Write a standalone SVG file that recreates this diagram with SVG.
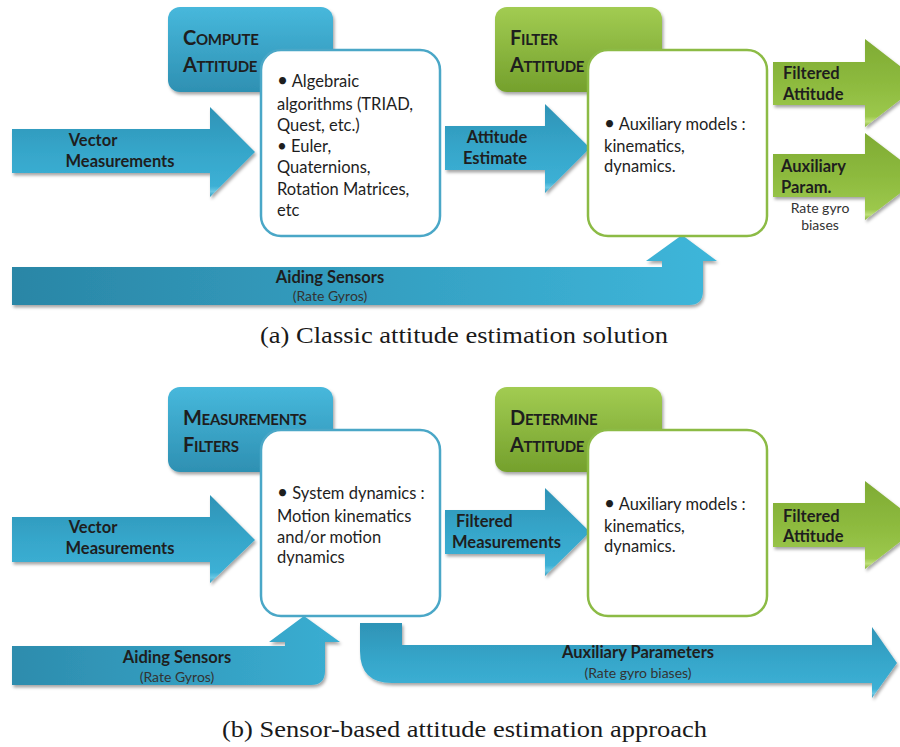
<svg xmlns="http://www.w3.org/2000/svg" width="900" height="747" viewBox="0 0 900 747">
<defs>
  <linearGradient id="gBlueHdr" x1="0" y1="0" x2="0" y2="1">
    <stop offset="0" stop-color="#47b8dc"/>
    <stop offset="1" stop-color="#2e90b2"/>
  </linearGradient>
  <linearGradient id="gGreenHdr" x1="0" y1="0" x2="0" y2="1">
    <stop offset="0" stop-color="#a2cc52"/>
    <stop offset="1" stop-color="#74a02c"/>
  </linearGradient>
  <linearGradient id="gBlueArrow" x1="0" y1="0" x2="0" y2="1">
    <stop offset="0" stop-color="#2e93b6"/>
    <stop offset="0.5" stop-color="#36a6ca"/>
    <stop offset="0.88" stop-color="#3cb0d5"/>
    <stop offset="0.94" stop-color="#6cc8e4"/>
    <stop offset="1" stop-color="#2f98bb"/>
  </linearGradient>
  <linearGradient id="gBlueBar" x1="0" y1="0" x2="1" y2="0">
    <stop offset="0" stop-color="#2a86a6"/>
    <stop offset="1" stop-color="#3eb6da"/>
  </linearGradient>
  <linearGradient id="gBlueBar2" x1="0" y1="0" x2="1" y2="0">
    <stop offset="0" stop-color="#2d8cad"/>
    <stop offset="1" stop-color="#3aaed2"/>
  </linearGradient>
  <linearGradient id="gGreenArrow" x1="0" y1="0" x2="0" y2="1">
    <stop offset="0" stop-color="#7fab34"/>
    <stop offset="0.5" stop-color="#8dba3e"/>
    <stop offset="0.88" stop-color="#9cc84c"/>
    <stop offset="0.94" stop-color="#bfe07a"/>
    <stop offset="1" stop-color="#84b038"/>
  </linearGradient>
  <filter id="sh" x="-10%" y="-10%" width="130%" height="140%">
    <feDropShadow dx="1.5" dy="2.5" stdDeviation="1.8" flood-color="#000" flood-opacity="0.35"/>
  </filter>
  <style>
    .hdrB { fill: url(#gBlueHdr); filter: url(#sh); }
    .hdrG { fill: url(#gGreenHdr); filter: url(#sh); }
    .boxB { fill: #ffffff; stroke: #4aa7c7; stroke-width: 2.5; }
    .boxG { fill: #ffffff; stroke: #8cbb45; stroke-width: 2.5; }
    .arB { fill: url(#gBlueArrow); filter: url(#sh); }
    .arG { fill: url(#gGreenArrow); filter: url(#sh); }
    .hdr { font-family: Lato, "Liberation Sans", sans-serif; font-weight: bold; fill: #1e1e1e; letter-spacing: -0.3px; }
    .hdr .big { font-size: 20px; }
    .hdr .sm { font-size: 15px; }
    .body { font-family: Lato, "Liberation Sans", sans-serif; font-size: 16.5px; fill: #1e1e1e; }
    .lbl { font-family: Lato, "Liberation Sans", sans-serif; font-size: 16.5px; font-weight: bold; fill: #1e1e1e; }
    .small { font-family: Lato, "Liberation Sans", sans-serif; font-size: 14px; fill: #333333; }
    .cap { font-family: "Liberation Serif", "Times New Roman", serif; font-size: 23px; fill: #1a1a1a; }
  </style>
</defs>
<rect width="900" height="747" fill="#ffffff"/>

<!-- ========== (a) ========== -->
<g id="connectors-a">
  <path class="arB" d="M12,129 H210 V107 L255,152 L210,197 V173 H12 Z"/>
  <path class="arB" d="M445,126 H545 V104 L590,148 L545,193 V170 H445 Z"/>
  <path class="arG" d="M773,62 H865 V39 L922,83 L865,127 V105 H773 Z"/>
  <path class="arG" d="M773,154 H865 V133 L922,176.5 L865,220 V197 H773 Z"/>
  <path fill="url(#gBlueBar)" filter="url(#sh)" d="M12,267 H662 V261 H646 L682,235 L717,261 H703 V291 Q703,305 689,305 H12 Z"/>
  <text class="lbl" x="93" y="146" text-anchor="middle">Vector</text>
  <text class="lbl" x="120" y="167" text-anchor="middle">Measurements</text>
  <text class="lbl" x="497" y="143" text-anchor="middle">Attitude</text>
  <text class="lbl" x="495" y="164" text-anchor="middle">Estimate</text>
  <text class="lbl" x="783" y="79">Filtered</text>
  <text class="lbl" x="783" y="100">Attitude</text>
  <text class="lbl" x="781" y="172">Auxiliary</text>
  <text class="lbl" x="781" y="193">Param.</text>
  <text class="small" x="820" y="213" text-anchor="middle">Rate gyro</text>
  <text class="small" x="820" y="230" text-anchor="middle">biases</text>
  <text class="lbl" x="330" y="283" text-anchor="middle">Aiding Sensors</text>
  <text class="small" x="330" y="301" text-anchor="middle">(Rate Gyros)</text>
</g>

<g id="compute-attitude">
  <rect class="hdrB" x="168" y="7" width="165" height="85" rx="12"/>
  <text class="hdr" x="183" y="45"><tspan class="big">C</tspan><tspan class="sm">OMPUTE</tspan></text>
  <text class="hdr" x="183" y="72"><tspan class="big">A</tspan><tspan class="sm">TTITUDE</tspan></text>
  <rect class="boxB" x="261" y="50" width="179" height="186" rx="20"/>
  <text class="body" x="277" y="87"><tspan font-size="19">•</tspan> Algebraic</text>
  <text class="body" x="277" y="110">algorithms (TRIAD,</text>
  <text class="body" x="277" y="131">Quest, etc.)</text>
  <text class="body" x="277" y="152"><tspan font-size="17">•</tspan> Euler,</text>
  <text class="body" x="277" y="173">Quaternions,</text>
  <text class="body" x="277" y="195">Rotation Matrices,</text>
  <text class="body" x="277" y="216">etc</text>
</g>

<g id="filter-attitude">
  <rect class="hdrG" x="495" y="7" width="167" height="85" rx="12"/>
  <text class="hdr" x="510" y="45"><tspan class="big">F</tspan><tspan class="sm">ILTER</tspan></text>
  <text class="hdr" x="510" y="72"><tspan class="big">A</tspan><tspan class="sm">TTITUDE</tspan></text>
  <rect class="boxG" x="588" y="50" width="179" height="186" rx="20"/>
  <text class="body" x="604" y="130"><tspan font-size="19">•</tspan>  Auxiliary models :</text>
  <text class="body" x="604" y="152">kinematics,</text>
  <text class="body" x="604" y="172">dynamics.</text>
</g>

<text class="cap" x="260" y="343" textLength="408" lengthAdjust="spacingAndGlyphs">(a) Classic attitude estimation solution</text>

<!-- ========== (b) ========== -->
<g id="connectors-b">
  <path class="arB" d="M12,517 H210 V495 L255,540 L210,583 V562 H12 Z"/>
  <path class="arB" d="M445,510 H545 V488 L590,532 L545,576 V554 H445 Z"/>
  <path class="arG" d="M773,503 H865 V481 L922,525 L865,569 V547 H773 Z"/>
  <path fill="url(#gBlueBar2)" filter="url(#sh)" d="M12,646 H285 V642 H269 L304,616 L340,642 H325 V671 Q325,685 311,685 H12 Z"/>
  <path fill="url(#gBlueArrow)" filter="url(#sh)" d="M360,623 H402 V645 H872 V627 L897,663 L872,698 V683 H392 Q360,683 360,651 Z"/>
  <text class="lbl" x="93" y="533" text-anchor="middle">Vector</text>
  <text class="lbl" x="120" y="554" text-anchor="middle">Measurements</text>
  <text class="lbl" x="456" y="527">Filtered</text>
  <text class="lbl" x="452" y="548">Measurements</text>
  <text class="lbl" x="783" y="522">Filtered</text>
  <text class="lbl" x="783" y="542">Attitude</text>
  <text class="lbl" x="177" y="663" text-anchor="middle">Aiding Sensors</text>
  <text class="small" x="177" y="682" text-anchor="middle">(Rate Gyros)</text>
  <text class="lbl" x="638" y="658" text-anchor="middle">Auxiliary Parameters</text>
  <text class="small" x="638" y="678" text-anchor="middle">(Rate gyro biases)</text>
</g>

<g id="measurements-filters">
  <rect class="hdrB" x="168" y="387" width="165" height="85" rx="12"/>
  <text class="hdr" x="183" y="425"><tspan class="big">M</tspan><tspan class="sm">EASUREMENTS</tspan></text>
  <text class="hdr" x="183" y="452"><tspan class="big">F</tspan><tspan class="sm">ILTERS</tspan></text>
  <rect class="boxB" x="261" y="430" width="179" height="186" rx="20"/>
  <text class="body" x="277" y="499"><tspan font-size="19">•</tspan> System dynamics :</text>
  <text class="body" x="277" y="522">Motion kinematics</text>
  <text class="body" x="277" y="543">and/or motion</text>
  <text class="body" x="277" y="563">dynamics</text>
</g>

<g id="determine-attitude">
  <rect class="hdrG" x="495" y="387" width="167" height="85" rx="12"/>
  <text class="hdr" x="510" y="425"><tspan class="big">D</tspan><tspan class="sm">ETERMINE</tspan></text>
  <text class="hdr" x="510" y="452"><tspan class="big">A</tspan><tspan class="sm">TTITUDE</tspan></text>
  <rect class="boxG" x="588" y="430" width="179" height="186" rx="20"/>
  <text class="body" x="604" y="510"><tspan font-size="19">•</tspan>  Auxiliary models :</text>
  <text class="body" x="604" y="532">kinematics,</text>
  <text class="body" x="604" y="552">dynamics.</text>
</g>

<text class="cap" x="222" y="737" textLength="485" lengthAdjust="spacingAndGlyphs">(b) Sensor-based attitude estimation approach</text>
</svg>
